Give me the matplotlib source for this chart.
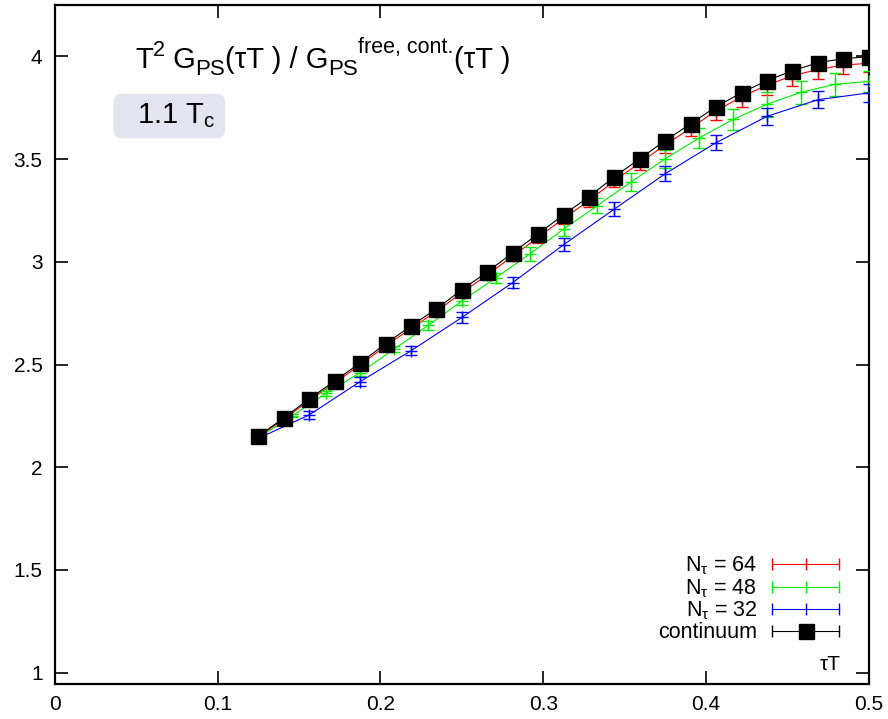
import matplotlib
matplotlib.use("Agg")
from matplotlib import pyplot as plt
from matplotlib.lines import Line2D
from matplotlib.legend_handler import HandlerBase
from matplotlib.transforms import IdentityTransform

plt.rcParams.update({'font.family': 'Liberation Sans', 'font.size': 14.5,
                     'mathtext.fontset': 'custom', 'mathtext.rm': 'Liberation Sans',
                     'mathtext.it': 'Liberation Sans', 'mathtext.bf': 'Liberation Sans:bold'})

# continuum (and N_tau=64, same tau*T grid: 1/64 steps)
x64 = [0.125, 0.140625, 0.15625, 0.171875, 0.1875, 0.203125, 0.21875, 0.234375,
       0.25, 0.265625, 0.28125, 0.296875, 0.3125, 0.328125, 0.34375, 0.359375,
       0.375, 0.390625, 0.40625, 0.421875, 0.4375, 0.453125, 0.46875, 0.484375, 0.5]
cont = [2.152, 2.240, 2.333, 2.420, 2.508, 2.601, 2.688, 2.771, 2.864, 2.951,
        3.044, 3.136, 3.229, 3.317, 3.414, 3.502, 3.590, 3.672, 3.755, 3.823,
        3.882, 3.930, 3.969, 3.989, 3.998]
cont_err = [0.003, 0.003, 0.003, 0.004, 0.004, 0.004, 0.005, 0.005, 0.005, 0.006,
            0.006, 0.006, 0.007, 0.007, 0.008, 0.008, 0.009, 0.009, 0.010, 0.011,
            0.012, 0.013, 0.014, 0.015, 0.015]
nt64 = [2.148, 2.234, 2.325, 2.411, 2.498, 2.590, 2.676, 2.758, 2.850, 2.936,
        3.028, 3.119, 3.211, 3.298, 3.394, 3.482, 3.569, 3.651, 3.735, 3.803,
        3.860, 3.906, 3.936, 3.958, 3.966]
nt64_err = [0.004, 0.006, 0.008, 0.010, 0.012, 0.014, 0.016, 0.018, 0.020, 0.022,
            0.024, 0.026, 0.028, 0.030, 0.032, 0.035, 0.038, 0.041, 0.045, 0.048,
            0.050, 0.050, 0.048, 0.045, 0.040]

x48 = [0.125, 0.145833, 0.166667, 0.1875, 0.208333, 0.229167, 0.25, 0.270833,
       0.291667, 0.3125, 0.333333, 0.354167, 0.375, 0.395833, 0.416667, 0.4375,
       0.458333, 0.479167, 0.5]
nt48 = [2.144, 2.251, 2.361, 2.460, 2.575, 2.690, 2.809, 2.922, 3.038, 3.159,
        3.274, 3.390, 3.502, 3.603, 3.693, 3.767, 3.825, 3.864, 3.878]
nt48_err = [0.004, 0.008, 0.012, 0.015, 0.016, 0.020, 0.021, 0.023, 0.033, 0.033,
            0.036, 0.043, 0.044, 0.049, 0.052, 0.060, 0.055, 0.055, 0.050]

x32 = [0.125, 0.15625, 0.1875, 0.21875, 0.25, 0.28125, 0.3125, 0.34375, 0.375,
       0.40625, 0.4375, 0.46875, 0.5]
nt32 = [2.141, 2.255, 2.417, 2.567, 2.729, 2.899, 3.083, 3.257, 3.429, 3.580,
        3.708, 3.789, 3.822]
nt32_err = [0.008, 0.020, 0.020, 0.023, 0.027, 0.028, 0.032, 0.036, 0.036, 0.037,
            0.040, 0.042, 0.043]

xticks = [0, 0.1, 0.2, 0.3, 0.4, 0.5]
xticklabels = ['0', '0.1', '0.2', '0.3', '0.4', '0.5']
yticks = [1, 1.5, 2, 2.5, 3, 3.5, 4]
yticklabels = ['1', '1.5', '2', '2.5', '3', '3.5', '4']

# title pieces: (text, fontsize, baseline shift in px)
title_parts = [('T', 21, 0), ('2', 15.5, 12), (' G', 21, 0), ('PS', 16, -7),
               ('(τT ) / G', 21, 0), ('PS', 16, -7), ('free, cont.', 15.5, 15),
               ('(τT )', 21, 0)]

red, green, blue = '#ff0000', '#00f000', '#0000ff'


class GnuKey(HandlerBase):
    # gnuplot style key: line with end caps and a point in the middle
    def __init__(self, color, marker, ms):
        super().__init__()
        self.color, self.marker, self.ms = color, marker, ms

    def create_artists(self, legend, orig_handle, xdescent, ydescent,
                       width, height, fontsize, trans):
        y = height / 2 - ydescent
        x0, x1 = -xdescent, -xdescent + width
        line = Line2D([x0, x1], [y, y], color=self.color, lw=0.8)
        caps = Line2D([x0, x1], [y, y], ls='none', marker='|', ms=9,
                      mew=1.0, color=self.color)
        mid = Line2D([(x0 + x1) / 2], [y], marker=self.marker, ms=self.ms,
                     mew=1.0, color=self.color, ls='none')
        for a in (line, caps, mid):
            a.set_transform(trans)
        return [line, caps, mid]


fig = plt.figure(figsize=(8.88, 7.19), dpi=100)
ax = fig.add_axes([55 / 888, 35 / 719, 813.7 / 888, 679 / 719])

series = [(x64, nt64, nt64_err, red), (x48, nt48, nt48_err, green),
          (x32, nt32, nt32_err, blue)]
handles = []
for i, (xs, ys, es, c) in enumerate(series):
    ax.plot(xs, ys, color=c, lw=0.8, zorder=2 + i)
    h = ax.errorbar(xs, ys, yerr=es, fmt='+', color=c, ms=8, mew=1.0,
                    elinewidth=1.0, capsize=4.3, capthick=1.0, zorder=2 + i)
    handles.append(h)

ax.plot(x64, cont, color='black', lw=0.8, zorder=6)
hc = ax.errorbar(x64, cont, yerr=cont_err, fmt='s', color='black', ms=10.8,
                 elinewidth=1.0, capsize=4.3, capthick=1.0, zorder=7)
handles.append(hc)

labels = [r'N$_{τ}$ = 64', r'N$_{τ}$ = 48', r'N$_{τ}$ = 32', 'continuum']
hmap = {handles[0]: GnuKey(red, '|', 9), handles[1]: GnuKey(green, '|', 9),
        handles[2]: GnuKey(blue, '|', 9), handles[3]: GnuKey('black', 's', 10.8)}
ax.legend(handles, labels, handler_map=hmap, loc='lower right',
          bbox_to_anchor=(0.9635, 0.06), frameon=False, markerfirst=False,
          handlelength=3.1, handletextpad=0.7, labelspacing=0.0,
          borderpad=0, borderaxespad=0, fontsize=15.5)

ax.set_xlim(0, 0.5)
ax.set_ylim(0.945, 4.25)
ax.set_xticks(xticks)
ax.set_xticklabels(xticklabels)
ax.set_yticks(yticks)
ax.set_yticklabels(yticklabels)
ax.tick_params(direction='in', length=9.5, width=1.2, top=True, right=True,
               labelsize=15)
ax.tick_params(axis='x', pad=8)
ax.tick_params(axis='y', pad=9)
for s in ax.spines.values():
    s.set_linewidth(1.6)

ax.text(0.965, 0.014, 'τT', transform=ax.transAxes, ha='right', va='bottom',
        fontsize=15)

# title, built piece by piece (gnuplot-like sub/superscripts)
renderer = fig.canvas.get_renderer()
px, py = ax.transAxes.transform((0.0983, 0.907))
for s, fs, dy in title_parts:
    t = fig.text(px, py + dy, s, transform=IdentityTransform(), fontsize=fs,
                 va='baseline', ha='left')
    px = t.get_window_extent(renderer).x1

ax.text(0.0815, 0.8365, '  1.1 T$_{\\mathrm{c}}$ ', transform=ax.transAxes,
        ha='left', va='center', fontsize=21,
        bbox=dict(boxstyle='round,pad=0.27,rounding_size=0.3', fc='#e4e4f0',
                  ec='none'))

plt.savefig('out.png', dpi=100)
